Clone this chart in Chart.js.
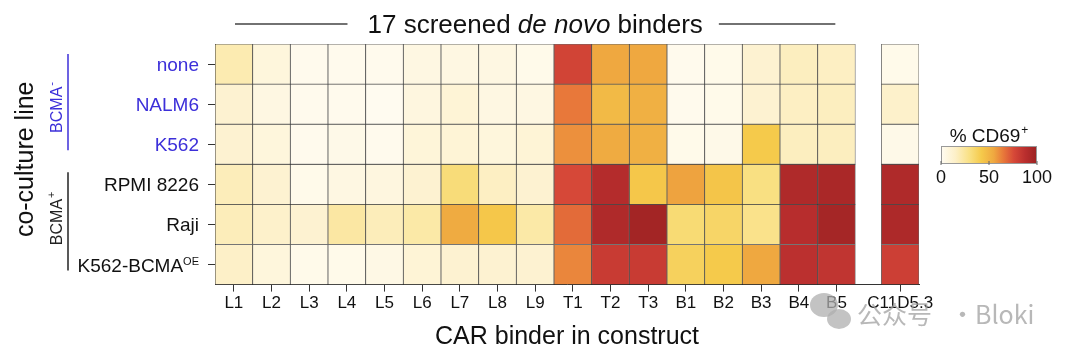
<!DOCTYPE html>
<html>
<head>
<meta charset="utf-8">
<script src="https://cdn.jsdelivr.net/npm/chart.js@4.4.1/dist/chart.umd.min.js"></script>
<style>
  html, body { margin: 0; padding: 0; background: #fff; }
  #wrap { width: 1080px; height: 354px; }
</style>
</head>
<body>
<div id="wrap"><canvas id="heat" width="1080" height="354"></canvas></div>
<script>
// 欄：17 個 de novo binder + 對照 C11D5.3（中間留空隙）
const colLabels = ["L1","L2","L3","L4","L5","L6","L7","L8","L9","T1","T2","T3","B1","B2","B3","B4","B5","C11D5.3"];
const colPos = [0,1,2,3,4,5,6,7,8,9,10,11,12,13,14,15,16,17.69];

// 列：共培養細胞株
const rowLabels = ["none","NALM6","K562","RPMI 8226","Raji","K562-BCMA"];
const rowSup = ["","","","","","OE"];
const rowNegative = [true,true,true,false,false,false];

// % CD69+
const valNone   = [20, 8, 2, 2, 2, 6, 6, 6, 3, 78, 55, 55, 2, 3, 12, 17, 16, 3];
const valNalm6  = [12, 6, 2, 2, 1, 7, 10, 6, 6, 65, 48, 52, 2, 3, 12, 16, 17, 14];
const valK562   = [12, 8, 2, 4, 2, 9, 10, 8, 10, 60, 54, 52, 3, 4, 42, 17, 17, 4];
const valRpmi   = [18, 12, 3, 6, 7, 12, 32, 16, 12, 76, 90, 43, 56, 44, 30, 92, 94, 92];
const valRaji   = [18, 14, 12, 23, 18, 22, 54, 43, 22, 68, 92, 97, 33, 36, 28, 89, 96, 93];
const valK562OE = [15, 8, 3, 3, 5, 10, 12, 12, 12, 62, 82, 82, 38, 42, 55, 87, 85, 80];
const rowValues = [valNone, valNalm6, valK562, valRpmi, valRaji, valK562OE];

// 色階
const cbTicks = [0, 50, 100];
const cmapStops = [0, 15, 30, 42, 55, 65, 76, 88, 100];
const cmapColors = [
  [255,252,243],[253,240,200],[249,224,130],[245,202,75],[239,168,64],
  [232,120,58],[214,72,56],[185,46,46],[155,34,34]
];

const FONT = "'Liberation Sans', Arial, sans-serif";
const BLUE = "#3c2fd9";

function colorFor(v) {
  for (let i = 1; i < cmapStops.length; i++) {
    if (v <= cmapStops[i]) {
      const t = (v - cmapStops[i-1]) / (cmapStops[i] - cmapStops[i-1]);
      const a = cmapColors[i-1], b = cmapColors[i];
      const c = a.map((x, k) => Math.round(x + (b[k] - x) * t));
      return `rgb(${c[0]},${c[1]},${c[2]})`;
    }
  }
  const c = cmapColors[cmapColors.length - 1];
  return `rgb(${c[0]},${c[1]},${c[2]})`;
}

const datasets = rowValues.map((vals, r) => ({
  label: rowLabels[r],
  data: vals.map((v, i) => ({ x: colPos[i], y: [r, r + 1] })),
  backgroundColor: vals.map(colorFor),
  borderColor: "rgba(40,40,40,0.7)",
  borderWidth: 0.8,
  borderSkipped: false,
  grouped: false,
  categoryPercentage: 1,
  barPercentage: 1
}));

// 文字、分組線與色條
const decorPlugin = {
  id: "decor",
  afterDraw(chart) {
    const ctx = chart.ctx;
    const xs = chart.scales.x, ys = chart.scales.y;
    const area = chart.chartArea;
    ctx.save();

    // 上方標題
    const x0 = xs.getPixelForValue(-0.5), x1 = xs.getPixelForValue(16.5);
    const cx = (x0 + x1) / 2;
    const partA = "17 screened ", partB = "de novo", partC = " binders";
    ctx.font = `26px ${FONT}`;
    const wA = ctx.measureText(partA).width, wC = ctx.measureText(partC).width;
    ctx.font = `italic 26px ${FONT}`;
    const wB = ctx.measureText(partB).width;
    const tw = wA + wB + wC;
    let tx = cx - tw / 2;
    ctx.fillStyle = "#111";
    ctx.textBaseline = "alphabetic";
    ctx.textAlign = "left";
    ctx.font = `26px ${FONT}`;
    ctx.fillText(partA, tx, 33);
    ctx.font = `italic 26px ${FONT}`;
    ctx.fillText(partB, tx + wA, 33);
    ctx.font = `26px ${FONT}`;
    ctx.fillText(partC, tx + wA + wB, 33);
    ctx.strokeStyle = "#444";
    ctx.lineWidth = 1.5;
    ctx.beginPath();
    ctx.moveTo(x0 + 20, 24); ctx.lineTo(tx - 20, 24);
    ctx.moveTo(tx + tw + 16, 24); ctx.lineTo(x1 - 20, 24);
    ctx.stroke();

    // 列標籤
    const labelRight = area.left - 16;
    rowLabels.forEach((lab, r) => {
      const y = ys.getPixelForValue(r + 0.5);
      ctx.fillStyle = rowNegative[r] ? BLUE : "#111";
      let supW = 0;
      if (rowSup[r]) {
        ctx.font = `11px ${FONT}`;
        supW = ctx.measureText(rowSup[r]).width;
        ctx.textAlign = "left";
        ctx.textBaseline = "alphabetic";
        ctx.fillText(rowSup[r], labelRight - supW, y + 7 - 7);
      }
      ctx.font = `19px ${FONT}`;
      ctx.textAlign = "right";
      ctx.textBaseline = "alphabetic";
      ctx.fillText(lab, labelRight - supW, y + 7);
    });

    // 分組 BCMA- / BCMA+
    const groups = [
      { text: "BCMA", sup: "-", color: BLUE, from: 0.25, to: 2.65, mid: 1.64 },
      { text: "BCMA", sup: "+", color: "#222", from: 3.2, to: 5.65, mid: 4.44 }
    ];
    groups.forEach(g => {
      ctx.strokeStyle = g.color;
      ctx.lineWidth = 1.5;
      ctx.beginPath();
      ctx.moveTo(68, ys.getPixelForValue(g.from));
      ctx.lineTo(68, ys.getPixelForValue(g.to));
      ctx.stroke();
      ctx.save();
      ctx.translate(62, ys.getPixelForValue(g.mid));
      ctx.rotate(-Math.PI / 2);
      ctx.fillStyle = g.color;
      ctx.font = `16px ${FONT}`;
      const w = ctx.measureText(g.text).width;
      ctx.textAlign = "left";
      ctx.fillText(g.text, -w / 2, 0);
      ctx.font = `11px ${FONT}`;
      ctx.fillText(g.sup, w / 2 + 1, -7);
      ctx.restore();
    });

    // y 軸標題
    ctx.save();
    ctx.translate(33, (area.top + area.bottom) / 2 - 5);
    ctx.rotate(-Math.PI / 2);
    ctx.fillStyle = "#111";
    ctx.font = `25px ${FONT}`;
    ctx.textAlign = "center";
    ctx.fillText("co-culture line", 0, 0);
    ctx.restore();

    // 色條圖例
    const cbL = 941, cbR = 1037, cbT = 146, cbB = 164;
    const grad = ctx.createLinearGradient(cbL, 0, cbR, 0);
    cmapStops.forEach(s => grad.addColorStop(s / 100, colorFor(s)));
    ctx.fillStyle = grad;
    ctx.fillRect(cbL, cbT, cbR - cbL, cbB - cbT);
    ctx.strokeStyle = "#999";
    ctx.lineWidth = 1;
    ctx.strokeRect(cbL + 0.5, cbT + 0.5, cbR - cbL - 1, cbB - cbT - 1);
    ctx.fillStyle = "#111";
    ctx.font = `19px ${FONT}`;
    const lt = "% CD69";
    const ltw = ctx.measureText(lt).width;
    const lcx = (cbL + cbR) / 2 - 4;
    ctx.textAlign = "left";
    ctx.fillText(lt, lcx - ltw / 2, 142);
    ctx.font = `12px ${FONT}`;
    ctx.fillText("+", lcx + ltw / 2 + 1, 134);
    ctx.font = `18px ${FONT}`;
    ctx.textAlign = "center";
    ctx.strokeStyle = "#666";
    cbTicks.forEach(t => {
      const px = cbL + (cbR - cbL) * t / 100;
      ctx.beginPath();
      ctx.moveTo(px, cbB - 3); ctx.lineTo(px, cbB + 1);
      ctx.stroke();
      ctx.fillText(String(t), px, 183);
    });

    // 水印
    ctx.fillStyle = "rgba(175,175,175,0.75)";
    ctx.beginPath();
    ctx.ellipse(824, 305, 14, 12, 0, 0, Math.PI * 2);
    ctx.fill();
    ctx.beginPath();
    ctx.ellipse(839, 319, 12, 10, 0, 0, Math.PI * 2);
    ctx.fill();
    ctx.font = `25px 'Noto Sans CJK SC', sans-serif`;
    ctx.textAlign = "left";
    ctx.fillStyle = "rgba(160,160,160,0.75)";
    ctx.fillText("公众号", 857, 324);
    ctx.fillText("·", 950, 324);
    ctx.fillText("Bloki", 975, 324);

    ctx.restore();
  }
};

new Chart(document.getElementById("heat"), {
  type: "bar",
  data: { datasets },
  options: {
    responsive: false,
    animation: false,
    layout: { padding: { left: 208, right: 161, top: 44, bottom: 2 } },
    plugins: { legend: { display: false }, tooltip: { enabled: false } },
    scales: {
      x: {
        type: "linear",
        min: -0.5,
        max: 18.19,
        offset: false,
        afterBuildTicks: scale => { scale.ticks = colPos.map(v => ({ value: v })); },
        grid: { display: true, drawOnChartArea: false, drawTicks: true, tickLength: 7, offset: false, color: "#333" },
        border: { display: true, color: "#333", width: 1 },
        ticks: {
          autoSkip: false, maxRotation: 0, minRotation: 0, padding: 2,
          color: "#111", font: { family: FONT, size: 17 },
          callback: (v, i) => colLabels[i]
        },
        title: {
          display: true, text: "CAR binder in construct", color: "#111",
          font: { family: FONT, size: 25 }, padding: { top: 6, bottom: 0 }
        }
      },
      y: {
        type: "linear",
        min: 0,
        max: 6,
        reverse: true,
        afterBuildTicks: scale => { scale.ticks = rowLabels.map((_, i) => ({ value: i + 0.5 })); },
        grid: { display: true, drawOnChartArea: false, drawTicks: true, tickLength: 7, color: "#333" },
        border: { display: true, color: "#333", width: 1 },
        ticks: { display: false }
      }
    }
  },
  plugins: [decorPlugin]
});
</script>
</body>
</html>
